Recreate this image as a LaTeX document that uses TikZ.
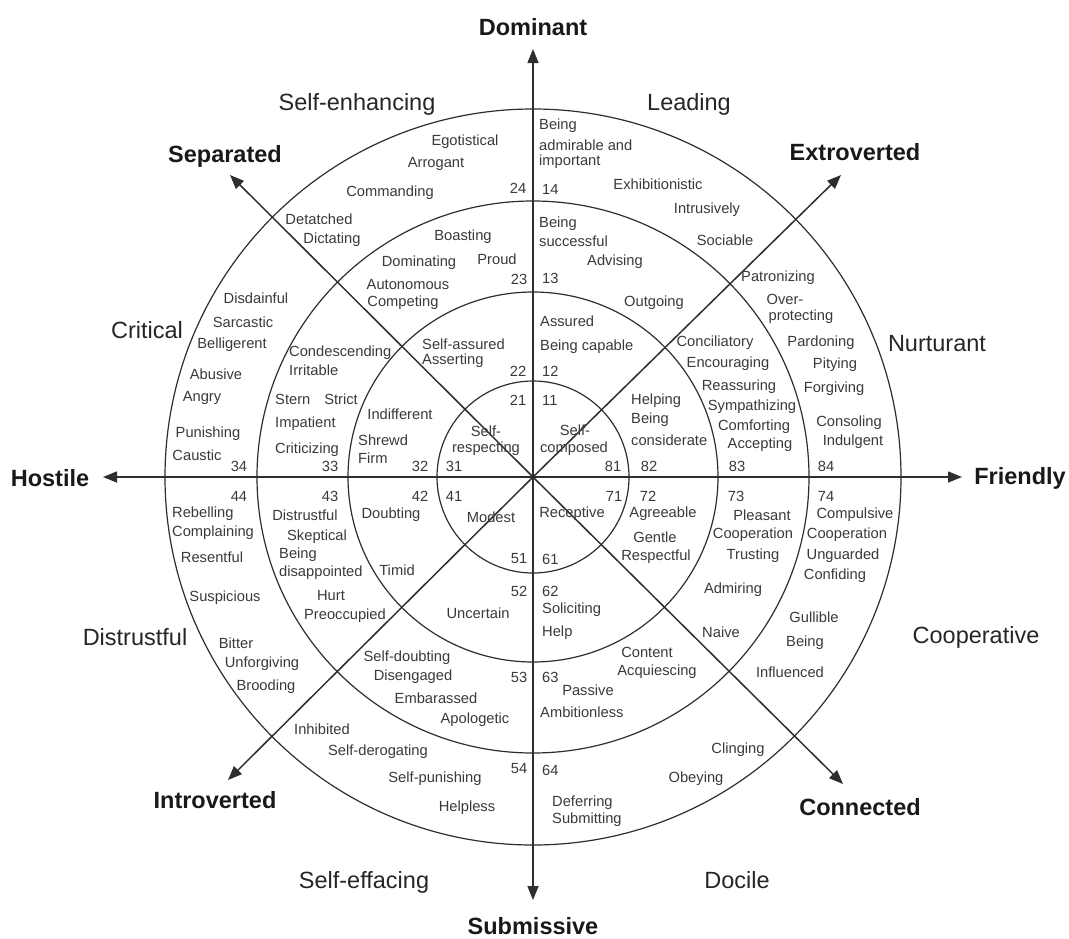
\documentclass[tikz,border=0pt]{standalone}
\usepackage{fontspec}
\setmainfont{Liberation Sans}
\usetikzlibrary{arrows.meta}
\definecolor{ink}{HTML}{2E2E2E}
\definecolor{txt}{HTML}{3A3A3A}
\begin{document}
\begin{tikzpicture}[x=1pt,y=-1pt,
  ring/.style={draw=ink,line width=1.2pt},
  axis/.style={draw=ink,line width=1.5pt,-{Triangle[length=14pt,width=11pt]}},
  lbl/.style={inner sep=0pt,text=txt,font=\fontsize{14.7}{17}\selectfont},
  lblw/.style={lbl,anchor=west},
  zone/.style={inner sep=0pt,text=black!85,font=\fontsize{23.5}{28}\selectfont},
  pole/.style={inner sep=0pt,text=black!90,font=\fontsize{23.5}{28}\selectfont\bfseries}]
\fill[white] (0,0) rectangle (1069,938);
\useasboundingbox (0,0) rectangle (1069,938);
% centre and arrow tips
\coordinate (O) at (533,477);
\coordinate (tN) at (533,49);
\coordinate (tS) at (533,900);
\coordinate (tW) at (103,477);
\coordinate (tE) at (962,477);
\coordinate (tNW) at (230,175);
\coordinate (tNE) at (841,175);
\coordinate (tSW) at (228,780);
\coordinate (tSE) at (843,784);
% rings
\draw[ring] (O) circle[radius=96];
\draw[ring] (O) circle[radius=185];
\draw[ring] (O) circle[radius=276];
\draw[ring] (O) circle[radius=368];
% axes
\foreach \t in {tN,tS,tW,tE,tNW,tNE,tSW,tSE}
  \draw[axis] (O) -- (\t);
% pole labels
\foreach \x/\y/\s [count=\i] in {533/27/Dominant, 533/926/Submissive, 50/478/Hostile,
  1020/478/Friendly, 225/156/Separated, 855/152/Extroverted, 215/800/Introverted,
  860/807/Connected}
  \node[pole] (p\i) at (\x,\y) {\s};
% zone labels
\foreach \x/\y/\s [count=\i] in {357/104/Self-enhancing, 689/104/Leading, 147/330/Critical,
  937/344/Nurturant, 135/637/Distrustful, 976/637/Cooperative, 364/882/Self-effacing,
  737/880/Docile}
  \node[zone] (z\i) at (\x,\y) {\s};
% centred small labels
\foreach \x/\y/\s [count=\i] in {
  465/142/Egotistical, 436/164/Arrogant, 390/193/Commanding, 518/188/24,
  319/219/Detatched, 332/240/Dictating, 463/237/Boasting, 419/263/Dominating,
  497/259/Proud, 519/279/23, 408/285/Autonomous, 403/303/Competing,
  518/371/22, 518/400/21, 486/431/Self-, 486/449/respecting,
  256/298/Disdainful, 243/322/Sarcastic, 232/345/Belligerent, 216/374/Abusive,
  202/398/Angry, 208/434/Punishing, 197/455/Caustic, 239/466/34,
  341/399/Strict, 330/466/33, 400/414/Indifferent, 420/466/32, 454/466/31,
  239/496/44, 330/496/43, 420/496/42, 454/496/41,
  212/557/Resentful, 225/598/Suspicious, 236/643/Bitter, 262/664/Unforgiving,
  266/687/Brooding, 305/515/Distrustful, 317/537/Skeptical, 331/596/Hurt,
  345/616/Preoccupied, 391/515/Doubting, 397/570/Timid, 491/517/Modest,
  519/559/51, 519/591/52, 478/613/Uncertain, 407/658/Self-doubting,
  413/677/Disengaged, 436/698/Embarassed, 475/720/Apologetic, 519/677/53,
  322/729/Inhibited, 378/752/Self-derogating, 435/779/Self-punishing,
  467/808/Helpless, 519/769/54,
  588/690/Passive, 647/652/Content, 657/672/Acquiescing, 738/750/Clinging,
  696/779/Obeying,
  614/496/71, 648/496/72, 736/496/73, 826/496/74, 572/514/Receptive,
  663/514/Agreeable, 655/537/Gentle, 656/557/Respectful, 762/515/Pleasant,
  753/535/Cooperation, 753/556/Trusting, 733/590/Admiring, 721/632/Naive,
  855/515/Compulsive, 847/535/Cooperation, 843/556/Unguarded, 835/576/Confiding,
  814/617/Gullible, 805/643/Being, 790/672/Influenced,
  575/430/Self-, 574/449/composed, 613/466/81, 649/466/82,
  715/343/Conciliatory, 728/364/Encouraging, 739/387/Reassuring,
  752/407/Sympathizing, 754/427/Comforting, 760/445/Accepting, 737/466/83,
  821/343/Pardoning, 835/365/Pitying, 834/389/Forgiving, 849/423/Consoling,
  853/442/Indulgent, 826/466/84,
  658/184/Exhibitionistic, 707/210/Intrusively, 725/240/Sociable,
  615/262/Advising, 654/303/Outgoing, 778/278/Patronizing, 785/299/Over-,
  801/317/protecting}
  \node[lbl] (c\i) at (\x,\y) {\s};
% left-aligned small labels
\foreach \x/\y/\s [count=\i] in {
  422/344/Self-assured, 422/361/Asserting,
  289/353/Condescending, 289/370/Irritable, 275/399/Stern, 275/424/Impatient,
  275/450/Criticizing, 358/440/Shrewd, 358/458/Firm,
  172/514/Rebelling, 172/533/Complaining, 279/555/Being, 279/573/disappointed,
  542/559/61, 542/591/62, 542/610/Soliciting, 542/633/Help, 542/677/63,
  540/712/Ambitionless, 542/770/64, 552/803/Deferring, 552/820/Submitting,
  631/401/Helping, 631/420/Being, 631/440/considerate,
  540/321/Assured, 540/347/Being capable, 542/371/12, 542/400/11,
  539/126/Being, 539/145/admirable and, 539/162/important, 542/189/14,
  539/224/Being, 539/241/successful, 542/278/13}
  \node[lblw] (w\i) at (\x,\y) {\s};
\end{tikzpicture}
\end{document}
